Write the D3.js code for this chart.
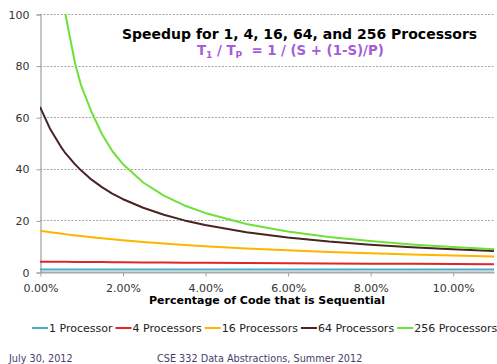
<!DOCTYPE html>
<html>
<head>
<meta charset="utf-8">
<script src="https://cdn.jsdelivr.net/npm/d3@7"></script>
<style>
  html, body { margin: 0; padding: 0; background: #fff; }
  svg { display: block; font-family: "DejaVu Sans", Verdana, sans-serif; }
</style>
</head>
<body>
<svg id="chart" width="497" height="364"></svg>
<script>
// ---- data ----
const sequentialPct = [0, 0.25, 0.5, 0.6, 0.85, 1, 1.25, 1.5, 1.75, 2, 2.5, 3, 3.5, 4, 5, 6, 7, 8, 9, 10, 11];
const speedup1   = [1, 1, 1, 1, 1, 1, 1, 1, 1, 1, 1, 1, 1, 1, 1, 1, 1, 1, 1, 1, 1];
const speedup4   = [4, 3.97, 3.94, 3.93, 3.90, 3.88, 3.85, 3.83, 3.80, 3.77, 3.72, 3.67, 3.62, 3.57, 3.48, 3.39, 3.30, 3.23, 3.15, 3.08, 3.01];
const speedup16  = [16, 15.42, 14.88, 14.68, 14.19, 13.91, 13.47, 13.06, 12.67, 12.31, 11.64, 11.03, 10.49, 10.0, 9.14, 8.42, 7.80, 7.27, 6.81, 6.40, 6.04];
const speedup64  = [64, 55.3, 48.7, 46.4, 41.7, 39.3, 35.8, 32.9, 30.4, 28.3, 24.9, 22.2, 20.0, 18.2, 15.4, 13.4, 11.8, 10.6, 9.6, 8.8, 8.1];
const speedup256 = [256, 156.3, 112.5, 101.2, 80.8, 72.1, 62.0, 53.5, 46.9, 42.0, 34.7, 29.6, 25.8, 22.9, 18.6, 15.7, 13.6, 12.0, 10.7, 9.7, 8.8];
const seriesNames = ["1 Processor", "4 Processors", "16 Processors", "64 Processors", "256 Processors"];
const seriesValues = [speedup1, speedup4, speedup16, speedup64, speedup256];
const seriesColors = ["#4BACC6", "#E0262B", "#FFB400", "#4A2323", "#6FE03A"];
const xTicks = [0, 2, 4, 6, 8, 10];
const yTicks = [0, 20, 40, 60, 80, 100];
const titleText = "Speedup for 1, 4, 16, 64, and 256 Processors";
const xAxisTitle = "Percentage of Code that is Sequential";
const footerLeft = "July 30, 2012";
const footerMid = "CSE 332 Data Abstractions, Summer 2012";

// ---- layout ----
const svg = d3.select("#chart");
const pL = 40, pR = 494, pT = 14, pB = 272;
const x = d3.scaleLinear().domain([0, 11]).range([pL, pR]);
const y = d3.scaleLinear().domain([0, 100]).range([pB, pT]);

svg.append("defs").append("clipPath").attr("id", "plotclip")
  .append("rect").attr("x", pL).attr("y", pT).attr("width", pR - pL).attr("height", pB - pT + 2);

// gridlines
svg.append("g").selectAll("line").data(yTicks.filter(d => d > 0)).join("line")
  .attr("x1", pL).attr("x2", pR)
  .attr("y1", d => Math.round(y(d)) + 0.5).attr("y2", d => Math.round(y(d)) + 0.5)
  .attr("stroke", "#a6a6a6").attr("stroke-width", 1).attr("stroke-dasharray", "2,1.5");

// y axis
const yAxis = d3.axisLeft(y).tickValues(yTicks).tickSize(4).tickPadding(7).tickFormat(d3.format("d"));
const gy = svg.append("g").attr("transform", `translate(${pL + 0.5},0.5)`).call(yAxis);
gy.select(".domain").attr("stroke", "#a0a0a0").attr("stroke-width", 1.2);
gy.selectAll(".tick line").attr("stroke", "#a0a0a0");
gy.selectAll(".tick text").attr("fill", "#333").attr("font-size", 11)
  .attr("font-family", "DejaVu Sans, Verdana, sans-serif");

// lines
const line = d3.line().x((d, i) => x(sequentialPct[i])).y(d => y(d));
const gLines = svg.append("g").attr("clip-path", "url(#plotclip)");
seriesValues.forEach((vals, k) => {
  gLines.append("path").datum(vals)
    .attr("d", line).attr("fill", "none")
    .attr("stroke", seriesColors[k]).attr("stroke-width", 2)
    .attr("stroke-linejoin", "round");
});

// x axis
const xAxis = d3.axisBottom(x).tickValues(xTicks).tickSize(4).tickPadding(8)
  .tickFormat(d => d.toFixed(2) + "%");
const gx = svg.append("g").attr("transform", `translate(0.5,${pB + 0.5})`).call(xAxis);
gx.select(".domain").attr("stroke", "#a8a8a8").attr("stroke-width", 2)
  .attr("d", `M${pL - 0.5},0H${pR}`);
gx.selectAll(".tick line").attr("stroke", "#a0a0a0");
gx.selectAll(".tick text").attr("fill", "#333").attr("font-size", 11)
  .attr("font-family", "DejaVu Sans, Verdana, sans-serif");

// axis title
svg.append("text").attr("x", (pL + pR) / 2).attr("y", 304)
  .attr("text-anchor", "middle").attr("font-weight", "bold").attr("font-size", 11)
  .attr("fill", "#000").text(xAxisTitle);

// chart title
svg.append("text").attr("x", 122).attr("y", 39)
  .attr("font-weight", "bold").attr("font-size", 14).attr("fill", "#000").text(titleText);

const t2 = svg.append("text").attr("x", 197).attr("y", 55)
  .attr("font-weight", "bold").attr("font-size", 13.3).attr("fill", "#A45CD8")
  .style("white-space", "pre");
t2.append("tspan").text("T");
t2.append("tspan").attr("font-size", 9).attr("dy", 3).text("1");
t2.append("tspan").attr("dy", -3).text(" / T");
t2.append("tspan").attr("font-size", 9).attr("dy", 3).text("P");
t2.append("tspan").attr("dy", -3).text("\u00a0 = 1 / (S + (1-S)/P)");

// legend
const legend = svg.append("g");
let lx = 32;
const ly = 328;
seriesNames.forEach((name, k) => {
  legend.append("line").attr("x1", lx).attr("x2", lx + 16).attr("y1", ly).attr("y2", ly)
    .attr("stroke", seriesColors[k]).attr("stroke-width", 2);
  const t = legend.append("text").attr("x", lx + 17).attr("y", ly + 4)
    .attr("font-size", 11).attr("fill", "#222").text(name);
  lx += 17 + t.node().getComputedTextLength() + 3;
});

// footer
svg.append("text").attr("x", 9).attr("y", 362).attr("font-size", 9.7)
  .attr("fill", "#4A3D6B").text(footerLeft);
svg.append("text").attr("x", 157).attr("y", 362).attr("font-size", 9.7)
  .attr("fill", "#4A3D6B").text(footerMid);
</script>
</body>
</html>
